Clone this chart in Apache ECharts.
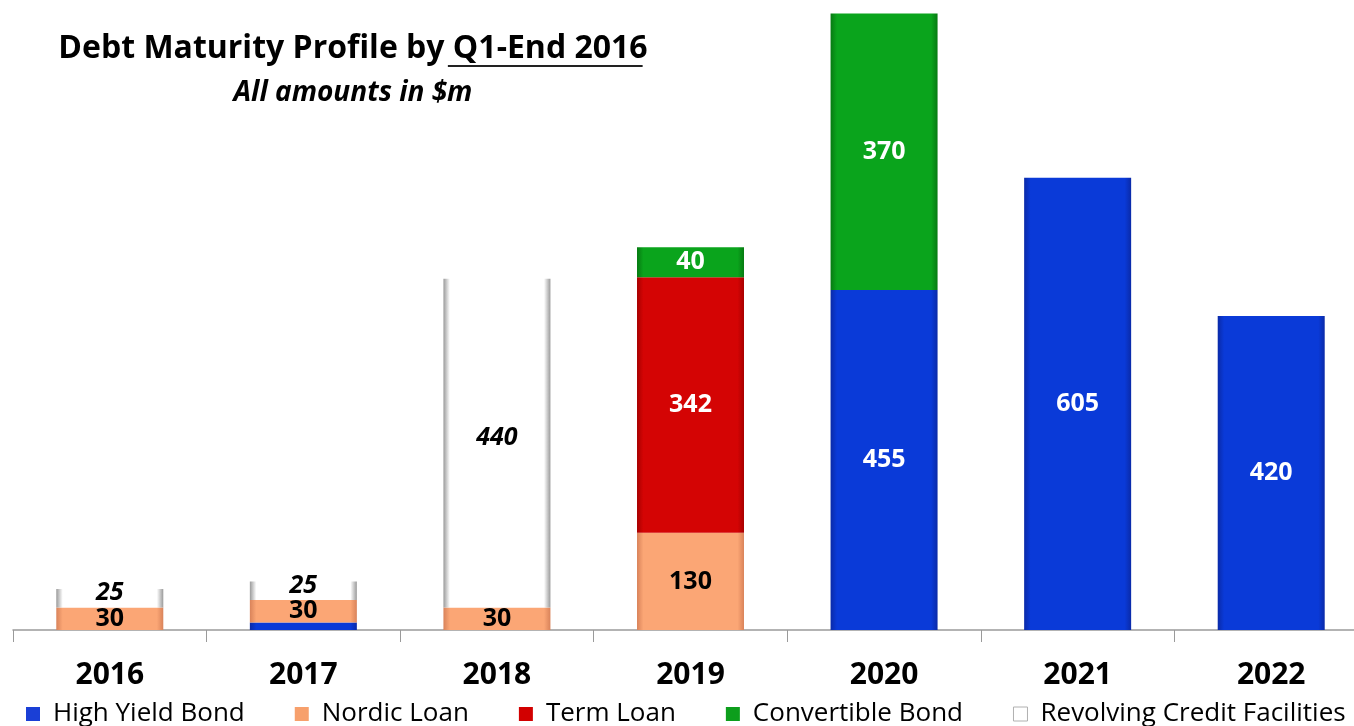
<!DOCTYPE html>
<html>
<head>
<meta charset="utf-8">
<script src="https://cdn.jsdelivr.net/npm/echarts@6/dist/echarts.min.js"></script>
<style>
  html, body { margin: 0; padding: 0; background: #fff; }
  #chart { width: 1354px; height: 726px; }
</style>
</head>
<body>
<div id="chart"></div>
<script>
// data ($m)
const years = ['2016', '2017', '2018', '2019', '2020', '2021', '2022'];
const highYieldBond = [0, 10, 0, 0, 455, 605, 420];
const nordicLoan = [30, 30, 30, 130, 0, 0, 0];
const termLoan = [0, 0, 0, 342, 0, 0, 0];
const convertibleBond = [0, 0, 0, 40, 370, 0, 0];
const revolvingCredit = [25, 25, 440, 0, 0, 0, 0];

const font = '"Open Sans", "Liberation Sans", sans-serif';
const titleMain = 'Debt Maturity Profile by ';
const titleUnderlined = 'Q1-End 2016';
const titleSize = 32;
const titleX = 348;

// horizontal gradient, darker at the edges like the bevelled bars
function barFill(edge, mid) {
  return new echarts.graphic.LinearGradient(0, 0, 1, 0, [
    { offset: 0, color: edge },
    { offset: 0.06, color: mid },
    { offset: 0.94, color: mid },
    { offset: 1, color: edge }
  ]);
}

function makeSeries(name, data, edge, mid, labelColor, italic) {
  return {
    name: name,
    type: 'bar',
    stack: 'debt',
    barWidth: 107,
    data: data,
    itemStyle: { color: barFill(edge, mid) },
    label: {
      show: true,
      position: 'inside',
      offset: italic ? [0, -5] : [0, 0],
      color: labelColor,
      fontFamily: font,
      fontWeight: 'bold',
      fontStyle: italic ? 'italic' : 'normal',
      fontSize: 25,
      formatter: function (p) { return p.value >= 20 ? p.value : ''; }
    },
    emphasis: { disabled: true }
  };
}

// measure title so the underline sits under "Q1-End 2016"
const ctx = document.createElement('canvas').getContext('2d');
ctx.font = 'bold ' + titleSize + 'px ' + font;
const fullW = ctx.measureText(titleMain + titleUnderlined).width;
const preW = ctx.measureText(titleMain).width;
const ulStart = titleX - fullW / 2 + preW;
const ulEnd = titleX + fullW / 2;

const chart = echarts.init(document.getElementById('chart'));

const option = {
  animation: false,
  backgroundColor: '#ffffff',
  title: {
    text: titleMain + titleUnderlined,
    subtext: 'All amounts in $m',
    left: titleX,
    textAlign: 'center',
    top: 28,
    itemGap: 14,
    textStyle: { fontFamily: font, fontWeight: 'bold', fontSize: titleSize, color: '#000' },
    subtextStyle: { fontFamily: font, fontWeight: 'bold', fontStyle: 'italic', fontSize: 28, color: '#000' }
  },
  graphic: [{
    type: 'line',
    shape: { x1: ulStart, y1: 66, x2: ulEnd, y2: 66 },
    style: { stroke: '#222', lineWidth: 2 }
  }],
  legend: {
    bottom: -1,
    left: 26,
    width: 1328,
    padding: 0,
    itemWidth: 14,
    itemHeight: 14,
    itemGap: 50,
    icon: 'rect',
    textStyle: { fontFamily: font, fontSize: 26, color: '#000', padding: [0, 0, 0, 8] },
    data: [
      { name: 'High Yield Bond', itemStyle: { color: '#1a3fd6' } },
      { name: 'Nordic Loan', itemStyle: { color: '#f7a06c' } },
      { name: 'Term Loan', itemStyle: { color: '#d20000' } },
      { name: 'Convertible Bond', itemStyle: { color: '#0d9e1c' } },
      { name: 'Revolving Credit Facilities', itemStyle: { color: '#ffffff', borderColor: '#b0b0b0', borderWidth: 1 } }
    ]
  },
  grid: { left: 13, right: -14, top: 0, bottom: 96, outerBoundsMode: 'none' },
  xAxis: {
    type: 'category',
    data: years,
    axisLine: { lineStyle: { color: '#9a9a9a', width: 1.5 } },
    axisTick: { show: true, length: 12, lineStyle: { color: '#9a9a9a' } },
    axisLabel: { margin: 30, fontFamily: font, fontWeight: 'bold', fontSize: 30, color: '#000' }
  },
  yAxis: {
    type: 'value',
    min: 0,
    max: 843,
    show: false,
    splitLine: { show: false }
  },
  series: [
    makeSeries('High Yield Bond', highYieldBond, '#0a2aa8', '#0a3ad8', '#ffffff', false),
    makeSeries('Nordic Loan', nordicLoan, '#d9835a', '#fba675', '#000000', false),
    makeSeries('Term Loan', termLoan, '#a80000', '#d40404', '#ffffff', false),
    makeSeries('Convertible Bond', convertibleBond, '#077a12', '#0aa41c', '#ffffff', false),
    makeSeries('Revolving Credit Facilities', revolvingCredit, '#9a9a9a', '#ffffff', '#000000', true)
  ]
};

chart.setOption(option);
</script>
</body>
</html>
